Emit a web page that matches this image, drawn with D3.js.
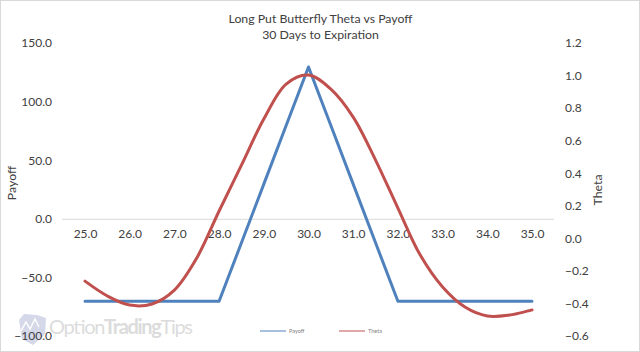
<!DOCTYPE html>
<html><head><meta charset="utf-8">
<script src="https://cdn.jsdelivr.net/npm/d3@7/dist/d3.min.js"></script>
<style>html,body{margin:0;padding:0;background:#fff}svg{display:block}text{font-family:Lato,"Open Sans",sans-serif;fill:#404040}</style>
</head><body><svg id="c" width="640" height="352"></svg>
<script>
const titleLines=["Long Put Butterfly Theta vs Payoff","30 Days to Expiration"];
const xValues=[25,25.5,26,26.5,27,27.5,28,28.5,29,29.5,30,30.5,31,31.5,32,32.5,33,33.5,34,34.5,35];
const xTicks=[25,26,27,28,29,30,31,32,33,34,35];
const payoff=[-70,-70,-70,-70,-70,-70,-70,-20,30,80,130,80,30,-20,-70,-70,-70,-70,-70,-70,-70];
const theta=[-0.26,-0.351,-0.407,-0.40,-0.315,-0.118,0.171,0.453,0.736,0.951,1.006,0.92,0.748,0.484,0.189,-0.10,-0.296,-0.419,-0.474,-0.468,-0.437];
const leftTicks=[-100,-50,0,50,100,150];
const rightTicks=[-0.6,-0.4,-0.2,0,0.2,0.4,0.6,0.8,1,1.2];
const svg=d3.select("#c");
const x=d3.scaleLinear().domain([25,35]).range([85,532]);
const yL=d3.scaleLinear().domain([-100,150]).range([336.5,43.5]);
const yR=d3.scaleLinear().domain([-0.6,1.2]).range([336.5,43.5]);
svg.append("rect").attr("x",.5).attr("y",.5).attr("width",639).attr("height",351).attr("fill","#fff").attr("stroke","#d9d9d9");
// watermark
const wm=svg.append("g");
wm.append("path").attr("d","M19 320L24 314L37 315L46 318L45 334L33 345L22 339Z").attr("fill","#d5d8e8");
wm.append("path").attr("d","M21 331L26 322L30 329L35 319L39 327").attr("fill","none").attr("stroke","#fff").attr("stroke-width",1.4);
wm.append("text").attr("x",49).attr("y",334).attr("font-size",20).style("fill","#dcdcdc").attr("textLength",144)
  .html('Option<tspan font-weight="700">Trading</tspan>Tips');
// zero axis
svg.append("line").attr("x1",62).attr("x2",554).attr("y1",yL(0)).attr("y2",yL(0)).attr("stroke","#d9d9d9");
const fs=12;
const gL=svg.append("g").call(d3.axisLeft(yL).tickValues(leftTicks).tickSize(0).tickFormat(d3.format(".1f")));
gL.attr("transform","translate(52,-0.5)");gL.select(".domain").remove();
gL.selectAll("text").attr("font-size",fs).attr("font-family",null).attr("x",0);
const gR=svg.append("g").call(d3.axisRight(yR).tickValues(rightTicks).tickSize(0).tickFormat(d3.format(".1f")));
gR.attr("transform","translate(565,-0.5)");gR.select(".domain").remove();
gR.selectAll("text").attr("font-size",fs).attr("font-family",null).attr("x",0);
const gX=svg.append("g").call(d3.axisBottom(x).tickValues(xTicks).tickSize(0).tickFormat(d3.format(".1f")));
gX.attr("transform","translate(0,"+yL(0)+")");gX.select(".domain").remove();
gX.selectAll("text").attr("font-size",fs).attr("font-family",null).attr("dy",16);
// titles
titleLines.forEach((t,i)=>svg.append("text").attr("x",320.5).attr("y",23+i*16).attr("text-anchor","middle").attr("font-size",12.3).text(t));
svg.append("text").attr("transform","translate(16,183) rotate(-90)").attr("text-anchor","middle").attr("font-size",12.3).text("Payoff");
svg.append("text").attr("transform","translate(602,190) rotate(-90)").attr("text-anchor","middle").attr("font-size",12.3).text("Theta");
// lines
svg.append("path").datum(payoff).attr("fill","none").attr("stroke","#4f81bd").attr("stroke-width",3).attr("stroke-linejoin","round").attr("stroke-linecap","round")
  .attr("d",d3.line().x((d,i)=>x(xValues[i])).y(d=>yL(d)));
svg.append("path").datum(theta).attr("fill","none").attr("stroke","#c0504d").attr("stroke-width",3).attr("stroke-linecap","round")
  .attr("d",d3.line().curve(d3.curveCatmullRom).x((d,i)=>x(xValues[i])).y(d=>yR(d)));
// legend
const legend=[["Payoff","#4f81bd",260],["Theta","#c0504d",339]];
legend.forEach(([n,c,lx])=>{
 svg.append("line").attr("x1",lx).attr("x2",lx+26).attr("y1",331).attr("y2",331).attr("stroke",c).attr("stroke-width",1);
 svg.append("text").attr("x",lx+29).attr("y",333).attr("font-size",5.5).style("fill","#808080").text(n);
});
</script></body></html>
